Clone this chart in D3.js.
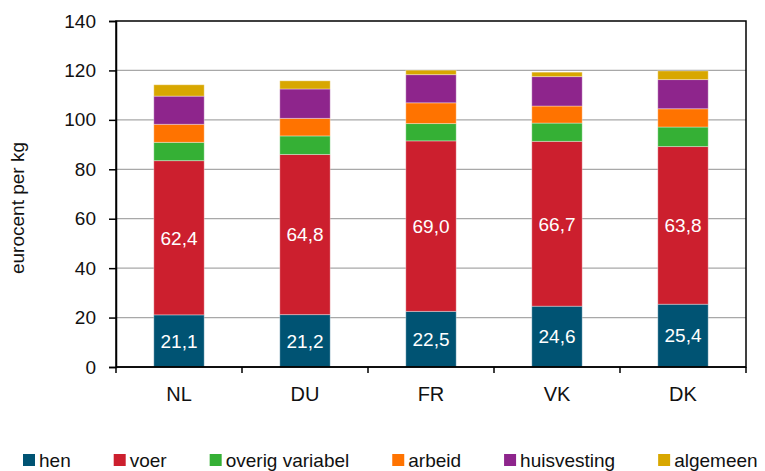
<!DOCTYPE html>
<html>
<head>
<meta charset="utf-8">
<script src="https://cdn.jsdelivr.net/npm/d3@7"></script>
<style>
  body { margin: 0; background: #fff; }
  text { font-family: "Liberation Sans", Arial, sans-serif; fill: #111; }
</style>
</head>
<body>
<div id="chart"></div>
<script>
// chart size
var width = 765;
var height = 471;

// data
var countries = ["NL", "DU", "FR", "VK", "DK"];
var series = ["hen", "voer", "overig variabel", "arbeid", "huisvesting", "algemeen"];
var colors = ["#005373", "#cc1f2e", "#35b035", "#ff7300", "#8e258c", "#d8a700"];
var hen = [21.1, 21.2, 22.5, 24.6, 25.4];
var voer = [62.4, 64.8, 69.0, 66.7, 63.8];
var overig = [7.4, 7.5, 7.0, 7.4, 7.9];
var arbeid = [7.3, 7.1, 8.4, 6.9, 7.4];
var huisvesting = [11.4, 11.9, 11.4, 11.9, 11.8];
var algemeen = [4.6, 3.3, 1.8, 1.8, 3.5];
var yTicks = [0, 20, 40, 60, 80, 100, 120, 140];
var labelled = ["hen", "voer"]; // only these get a value inside the bar

var values = [hen, voer, overig, arbeid, huisvesting, algemeen];

// build table for d3.stack
var table = countries.map(function(c, i) {
  var row = { land: c };
  series.forEach(function(s, j) { row[s] = values[j][i]; });
  return row;
});

var margin = { top: 21, right: 19, bottom: 104, left: 116 };
var innerW = width - margin.left - margin.right;
var innerH = height - margin.top - margin.bottom;

var svg = d3.select("#chart").append("svg")
  .attr("width", width)
  .attr("height", height);

var g = svg.append("g")
  .attr("transform", "translate(" + margin.left + "," + margin.top + ")");

var x = d3.scaleBand()
  .domain(countries)
  .range([0, innerW])
  .paddingInner(0.6)
  .paddingOuter(0.3);

var y = d3.scaleLinear()
  .domain([0, 140])
  .range([innerH, 0]);

// gridlines
g.selectAll("line.grid")
  .data(yTicks.slice(1, -1))
  .enter()
  .append("line")
    .attr("class", "grid")
    .attr("x1", 0)
    .attr("x2", innerW)
    .attr("y1", function(d) { return y(d); })
    .attr("y2", function(d) { return y(d); })
    .style("stroke", "#a8a8a8")
    .style("stroke-width", 1.3);

// stacked bars
var stack = d3.stack().keys(series);
var layers = stack(table);

var layer = g.selectAll("g.layer")
  .data(layers)
  .enter()
  .append("g")
    .attr("class", "layer")
    .style("fill", function(d, i) { return colors[i]; });

layer.selectAll("rect")
  .data(function(d) { return d; })
  .enter()
  .append("rect")
    .attr("x", function(d) { return x(d.data.land); })
    .attr("width", x.bandwidth())
    .attr("y", function(d) { return y(d[1]); })
    .attr("height", function(d) { return y(d[0]) - y(d[1]); })
    .style("stroke", "rgba(255,255,255,0.35)")
    .style("stroke-width", 1);

// value labels in hen and voer segments
layer.filter(function(d) { return labelled.indexOf(d.key) >= 0; })
  .selectAll("text")
  .data(function(d) { return d; })
  .enter()
  .append("text")
    .attr("x", function(d) { return x(d.data.land) + x.bandwidth() / 2; })
    .attr("y", function(d) { return (y(d[0]) + y(d[1])) / 2; })
    .attr("dy", "0.36em")
    .attr("text-anchor", "middle")
    .style("font-size", "19px")
    .style("fill", "#fff")
    .text(function(d) { return d3.format(".1f")(d[1] - d[0]).replace(".", ","); });

// plot frame
g.append("rect")
  .attr("width", innerW)
  .attr("height", innerH)
  .style("fill", "none")
  .style("stroke", "#000")
  .style("stroke-width", 1.5);

// y axis
var yAxis = g.append("g")
  .call(d3.axisLeft(y).tickValues(yTicks).tickSize(7).tickPadding(13));
yAxis.select(".domain").style("stroke", "#000").style("stroke-width", 1.5);
yAxis.selectAll(".tick line").style("stroke", "#000").style("stroke-width", 1.5);
yAxis.selectAll(".tick text")
  .style("font-size", "19px")
  .style("font-family", "'Liberation Sans', Arial, sans-serif")
  .style("fill", "#111");

// x axis: ticks sit between the categories
var xAxis = g.append("g")
  .attr("transform", "translate(0," + innerH + ")");
var step = innerW / countries.length;
xAxis.append("line")
  .attr("x1", 0).attr("x2", innerW)
  .style("stroke", "#000").style("stroke-width", 1.5);
xAxis.selectAll("line.sep")
  .data(d3.range(countries.length + 1))
  .enter()
  .append("line")
    .attr("class", "sep")
    .attr("x1", function(d) { return d * step; })
    .attr("x2", function(d) { return d * step; })
    .attr("y1", 0)
    .attr("y2", 6)
    .style("stroke", "#000")
    .style("stroke-width", 1.5);
xAxis.selectAll("text")
  .data(countries)
  .enter()
  .append("text")
    .attr("x", function(d) { return x(d) + x.bandwidth() / 2; })
    .attr("y", 34)
    .attr("text-anchor", "middle")
    .style("font-size", "20px")
    .text(function(d) { return d; });

// y axis title
svg.append("text")
  .attr("transform", "translate(24,208) rotate(-90)")
  .attr("text-anchor", "middle")
  .style("font-size", "19px")
  .text("eurocent per kg");

// legend, laid out left to right
var legend = svg.append("g").attr("transform", "translate(23,454)");
var lx = 0;
series.forEach(function(s, i) {
  var item = legend.append("g").attr("transform", "translate(" + lx + ",0)");
  item.append("rect")
    .attr("width", 12)
    .attr("height", 12)
    .style("fill", colors[i]);
  var t = item.append("text")
    .attr("x", 16)
    .attr("y", 13)
    .style("font-size", "19px")
    .text(s);
  lx += 16 + t.node().getComputedTextLength() + 43;
});
</script>
</body>
</html>
